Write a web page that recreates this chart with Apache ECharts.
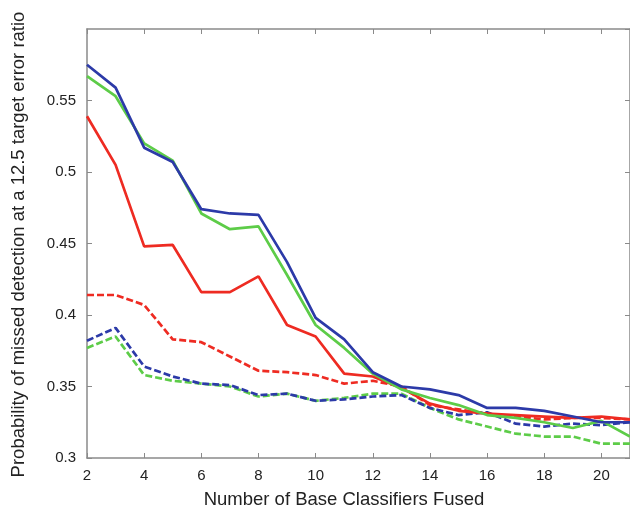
<!DOCTYPE html>
<html>
<head>
<meta charset="utf-8">
<script src="https://cdn.jsdelivr.net/npm/echarts@6/dist/echarts.min.js"></script>
<style>html,body{margin:0;padding:0;background:#fff;}#c{width:630px;height:514px;}</style>
</head>
<body>
<div id="c"></div>
<script>
const xValues = [2,3,4,5,6,7,8,9,10,11,12,13,14,15,16,17,18,19,20,21];
const blueSolid  = [0.575,0.559,0.517,0.507,0.474,0.471,0.470,0.437,0.398,0.383,0.360,0.350,0.348,0.344,0.335,0.335,0.333,0.329,0.325,0.325];
const greenSolid = [0.567,0.553,0.520,0.508,0.471,0.460,0.462,0.428,0.393,0.377,0.359,0.348,0.342,0.337,0.330,0.328,0.325,0.321,0.326,0.315];
const redSolid   = [0.539,0.505,0.448,0.449,0.416,0.416,0.427,0.393,0.385,0.359,0.357,0.349,0.338,0.333,0.331,0.330,0.329,0.328,0.329,0.327];
const redDashed  = [0.414,0.414,0.407,0.383,0.381,0.371,0.361,0.360,0.358,0.352,0.354,0.350,0.337,0.334,0.331,0.329,0.327,0.328,0.328,0.327];
const blueDashed = [0.382,0.391,0.364,0.357,0.352,0.351,0.344,0.345,0.340,0.341,0.343,0.344,0.335,0.330,0.332,0.324,0.322,0.324,0.323,0.325];
const greenDashed= [0.377,0.385,0.358,0.354,0.352,0.350,0.343,0.345,0.340,0.342,0.345,0.345,0.335,0.327,0.322,0.317,0.315,0.315,0.310,0.310];
const yTicks = [0.3,0.35,0.4,0.45,0.5,0.55];
const xName = 'Number of Base Classifiers Fused';
const yName = 'Probability of missed detection at a 12.5 target error ratio';

const BLUE = '#2c3aa8', GREEN = '#5dcc48', RED = '#ee2b22';
function pairs(arr){ return arr.map((v,i)=>[xValues[i], v]); }
function line(data, color, dashed, z){
  return {type:'line', data:pairs(data), showSymbol:false, symbol:'none', z:z,
    lineStyle:{color:color, width:2.7, type: dashed ? [7,3] : 'solid'}, clip:true, animation:false};
}
const axisCol = '#8a8a8a';
const FONT = 'Liberation Sans, Arial, sans-serif';
const chart = echarts.init(document.getElementById('c'), null, {renderer:'canvas'});
chart.setOption({
  animation:false,
  backgroundColor:'#fff',
  grid:{left:87, top:29, right:-5, bottom:56, show:false},
  xAxis:[{
    type:'value', min:2, max:21, interval:2,
    axisLine:{show:true, lineStyle:{color:axisCol, width:1.5}},
    axisTick:{show:true, inside:true, length:5, lineStyle:{color:axisCol}},
    axisLabel:{show:true, fontSize:15, color:'#222', fontFamily:FONT, margin:10, showMaxLabel:false},
    splitLine:{show:false}
  },{
    type:'value', position:'top', min:2, max:21, interval:2,
    axisLine:{show:true, lineStyle:{color:axisCol, width:1.5}},
    axisTick:{show:true, inside:true, length:5, lineStyle:{color:axisCol}},
    axisLabel:{show:false}, splitLine:{show:false}
  }],
  yAxis:[{
    type:'value', min:0.3, max:0.6, interval:0.05,
    axisLine:{show:true, lineStyle:{color:axisCol, width:1.5}},
    axisTick:{show:true, inside:true, length:5, lineStyle:{color:axisCol}},
    axisLabel:{show:true, fontSize:15, color:'#222', fontFamily:FONT, margin:11, showMaxLabel:false,
      formatter:function(v){ const t = yTicks.find(x=>Math.abs(x-v)<1e-6); return t===undefined ? '' : String(t); }},
    splitLine:{show:false}
  },{
    type:'value', position:'right', min:0.3, max:0.6, interval:0.05,
    axisLine:{show:true, lineStyle:{color:axisCol, width:1.5}},
    axisTick:{show:true, inside:true, length:5, lineStyle:{color:axisCol}},
    axisLabel:{show:false}, splitLine:{show:false}
  }],
  graphic:[
    {type:'text', position:[344,500], style:{text:xName, font:'18.5px "Liberation Sans", Arial, sans-serif', fill:'#222', textAlign:'center', textVerticalAlign:'middle'}},
    {type:'text', position:[19,244.5], rotation:Math.PI/2, style:{text:yName, font:'18.5px "Liberation Sans", Arial, sans-serif', fill:'#222', textAlign:'center', textVerticalAlign:'middle'}}
  ],
  series:[
    line(greenDashed, GREEN, true, 2),
    line(blueDashed, BLUE, true, 3),
    line(redDashed, RED, true, 4),
    line(redSolid, RED, false, 5),
    line(greenSolid, GREEN, false, 6),
    line(blueSolid, BLUE, false, 7)
  ]
});
</script>
</body>
</html>
